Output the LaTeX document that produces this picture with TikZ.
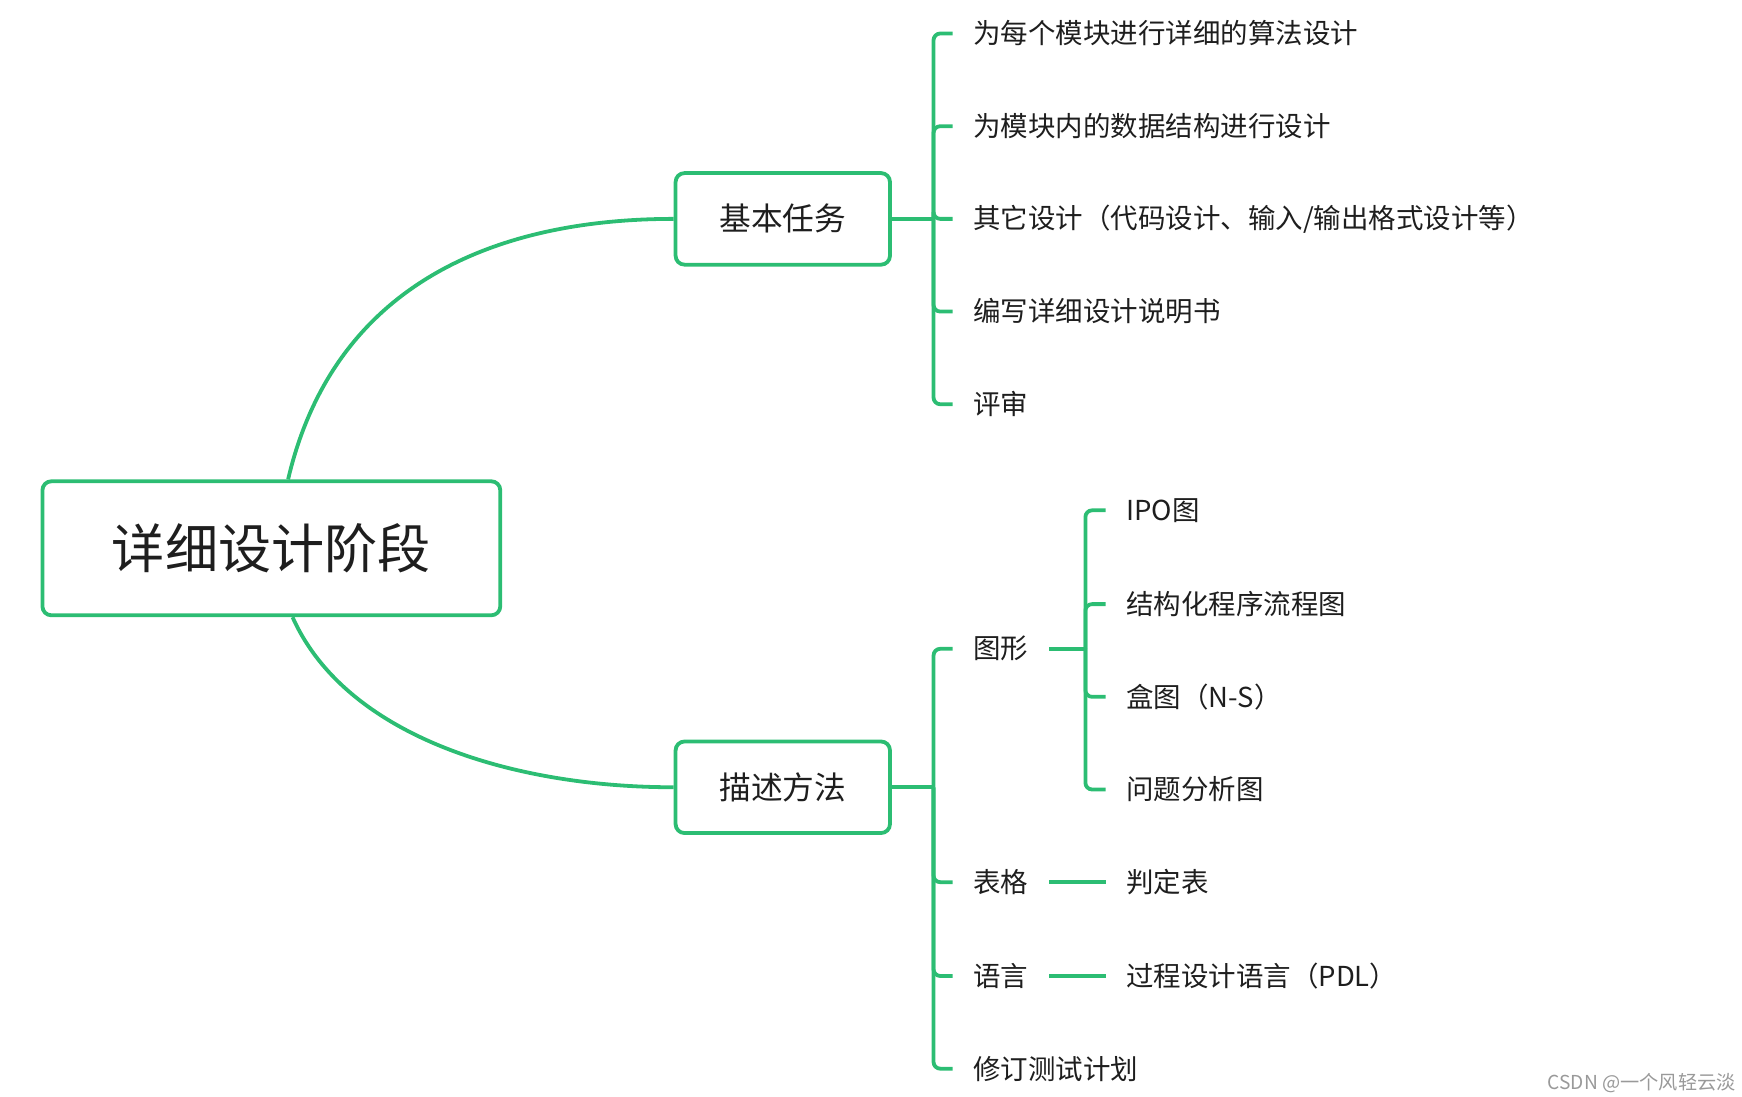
\documentclass[tikz,border=0pt]{standalone}
\usepackage{fontspec}
\setmainfont{Noto Sans CJK SC}
\usetikzlibrary{positioning}
\definecolor{mapgreen}{RGB}{44,189,115}
\definecolor{maptext}{RGB}{30,30,30}

\begin{document}
\begin{tikzpicture}[x=0.5pt,y=-0.5pt,line width=1.7pt]

		\tikzset{root box/.style={draw=mapgreen, rounded corners=4pt,
								minimum width=205pt, minimum height=60pt,
								text=maptext, font=\fontsize{23.8}{28}\selectfont},
				topic box/.style={draw=mapgreen, rounded corners=4pt,
								minimum width=96pt, minimum height=41pt,
								text=maptext, font=\fontsize{14.2}{17}\selectfont},
				leaf/.style={anchor=west, inner xsep=8.5pt, inner ysep=2pt,
								text=maptext, font=\fontsize{12.3}{15}\selectfont},
				link/.style={draw=mapgreen, rounded corners=3pt}}

		\useasboundingbox (0,0) rectangle (1560,982);

		\node[root box] (root) at (243,491) {详细设计阶段};
		\node[topic box] (task) at (701,196) {基本任务};
		\node[topic box] (method) at (701,705) {描述方法};

		\coordinate (hub1) at (836,196);
		\coordinate (hub2) at (836,705);

		\node[leaf] (t1) at (853,30) {为每个模块进行详细的算法设计};
		\node[leaf] (t2) at (853,113) {为模块内的数据结构进行设计};
		\node[leaf] (t3) at (853,196) {其它设计（代码设计、输入/输出格式设计等）};
		\node[leaf] (t4) at (853,279) {编写详细设计说明书};
		\node[leaf] (t5) at (853,362) {评审};

		\node[leaf] (m1) at (853,581) {图形};
		\node[leaf] (m2) at (853,790) {表格};
		\node[leaf] (m3) at (853,874) {语言};
		\node[leaf] (m4) at (853,957) {修订测试计划};

		\coordinate (hub3) at (972,581);
		\node[leaf] (g1) at (990,457) {IPO图};
		\node[leaf] (g2) at (990,541) {结构化程序流程图};
		\node[leaf] (g3) at (990,624) {盒图（N-S）};
		\node[leaf] (g4) at (990,707) {问题分析图};
		\node[leaf] (tab) at (990,790) {判定表};
		\node[leaf] (pdl) at (990,874) {过程设计语言（PDL）};

		\node[anchor=east, text=gray!80, inner sep=0pt,
			  font=\fontsize{8.6}{10}\selectfont] (mark) at (1556,970) {CSDN @一个风轻云淡};

		\draw[link] ([xshift=7.5pt]root.north) .. controls (300,250) and (450,196) .. (task.west);
		\draw[link] ([xshift=9.5pt]root.south) .. controls (310,660) and (460,705) .. (method.west);

		\draw[link, line width=2pt] (task.east) -- (hub1);
		\draw[link, line width=2pt] (method.east) -- (hub2);
		\draw[link, line width=2pt] (m1.east) -- (hub3);

		\foreach \c in {t1,t2,t3,t4,t5}
			\draw[link] (hub1) |- (\c.west);
		\foreach \c in {m1,m2,m3,m4}
			\draw[link] (hub2) |- (\c.west);
		\foreach \c in {g1,g2,g3,g4}
			\draw[link] (hub3) |- (\c.west);

		\draw[link] (m2.east) -- (tab.west);
		\draw[link] (m3.east) -- (pdl.west);
		\end{tikzpicture}
\end{document}
